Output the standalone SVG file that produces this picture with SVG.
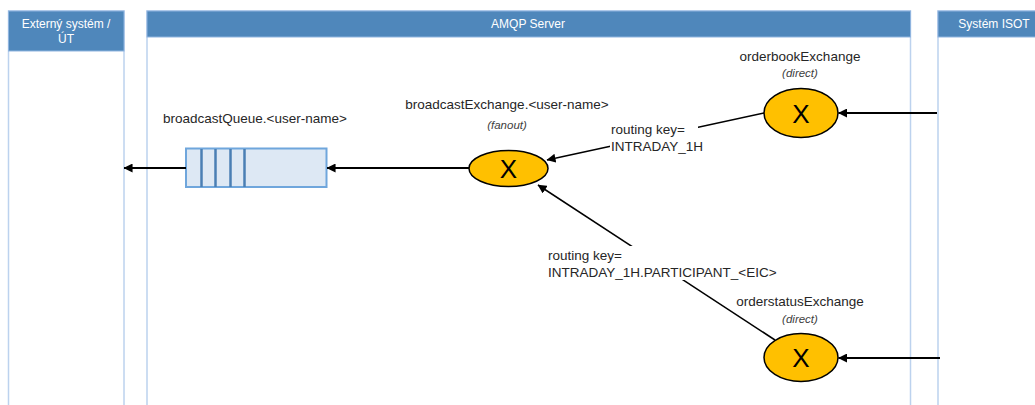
<svg xmlns="http://www.w3.org/2000/svg" width="1035" height="405" viewBox="0 0 1035 405">
<defs>
<style>
.lane{fill:#ffffff;stroke:#bcd2ee;stroke-width:1.5}
.hdr{fill:#4f87bb;stroke:#8fb4df;stroke-width:1}
.htxt{font-family:"Liberation Sans",Arial,sans-serif;font-size:12px;fill:#ffffff;text-anchor:middle}
.lbl{font-family:"Liberation Sans",Arial,sans-serif;font-size:13.5px;fill:#262626}
.sub{font-family:"Liberation Sans",Arial,sans-serif;font-size:11.5px;font-style:italic;fill:#404040;text-anchor:middle}
.ex{fill:#ffc000;stroke:#000000;stroke-width:1.5}
.xt{font-family:"Liberation Sans",Arial,sans-serif;font-size:26px;fill:#000000;text-anchor:middle}
.arr{stroke:#000000;stroke-width:2;fill:none;marker-end:url(#ah)}
.arr2{stroke:#000000;stroke-width:1.5;fill:none;marker-end:url(#ah)}
.bg{fill:#ffffff}
</style>
<marker id="ah" viewBox="0 0 10 10" refX="9.5" refY="5" markerWidth="9" markerHeight="9" markerUnits="userSpaceOnUse" orient="auto">
<path d="M0,0 L10,5 L0,10 z" fill="#000000"/>
</marker>
</defs>
<g id="lane-externy">
<rect class="lane" x="8.5" y="11" width="115.5" height="400"/>
<rect class="hdr" x="8.5" y="11" width="115.5" height="40"/>
<text class="htxt" x="66" y="28">Externý systém /</text>
<text class="htxt" x="66" y="43">ÚT</text>
</g>
<g id="lane-amqp">
<rect class="lane" x="147" y="11" width="763.5" height="400"/>
<rect class="hdr" x="147" y="11" width="763.5" height="26"/>
<text class="htxt" x="528" y="28">AMQP Server</text>
</g>
<g id="lane-isot">
<rect class="lane" x="938" y="11" width="115" height="400"/>
<rect class="hdr" x="938" y="11" width="115" height="26"/>
<text class="htxt" x="994" y="28">Systém ISOT</text>
</g>
<g id="broadcastQueue">
<text class="lbl" x="163" y="123">broadcastQueue.&lt;user-name&gt;</text>
<rect x="186" y="148.5" width="140.5" height="38.5" fill="#dde8f4" stroke="#6fa6dc" stroke-width="2"/>
<g stroke="#4a7fb4" stroke-width="2.5">
<line x1="201.5" y1="149" x2="201.5" y2="187"/>
<line x1="215.5" y1="149" x2="215.5" y2="187"/>
<line x1="230.5" y1="149" x2="230.5" y2="187"/>
<line x1="244.5" y1="149" x2="244.5" y2="187"/>
</g>
</g>
<g id="broadcastExchange">
<text class="lbl" x="507" y="109" text-anchor="middle">broadcastExchange.&lt;user-name&gt;</text>
<text class="sub" x="507" y="129">(fanout)</text>
<ellipse class="ex" cx="508.5" cy="168.5" rx="39.5" ry="18"/>
<text class="xt" x="508.5" y="178">X</text>
</g>
<g id="orderbookExchange">
<text class="lbl" x="800" y="61" text-anchor="middle">orderbookExchange</text>
<text class="sub" x="800" y="77">(direct)</text>
<ellipse class="ex" cx="801" cy="113" rx="37" ry="24.5"/>
<text class="xt" x="801" y="122.5">X</text>
</g>
<g id="orderstatusExchange">
<text class="lbl" x="800" y="306" text-anchor="middle">orderstatusExchange</text>
<text class="sub" x="800" y="323">(direct)</text>
<ellipse class="ex" cx="801" cy="357.5" rx="37" ry="24"/>
<text class="xt" x="801" y="367">X</text>
</g>
<g id="connectors">
<line class="arr" x1="186" y1="168" x2="124" y2="168"/>
<line class="arr" x1="469" y1="168" x2="327" y2="168"/>
<line class="arr" x1="937" y1="113" x2="838.5" y2="113"/>
<line class="arr" x1="940" y1="358" x2="838.5" y2="358"/>
<line class="arr2" x1="764" y1="113" x2="547" y2="160"/>
<line class="arr2" x1="775" y1="340" x2="538" y2="185"/>
<rect class="bg" x="610" y="120" width="88" height="36"/>
<text class="lbl" x="611" y="134">routing key=</text>
<text class="lbl" x="611" y="151">INTRADAY_1H</text>
<rect class="bg" x="547" y="246" width="214" height="34"/>
<text class="lbl" x="548" y="260">routing key=</text>
<text class="lbl" x="548" y="277">INTRADAY_1H.PARTICIPANT_&lt;EIC&gt;</text>
</g>
</svg>
